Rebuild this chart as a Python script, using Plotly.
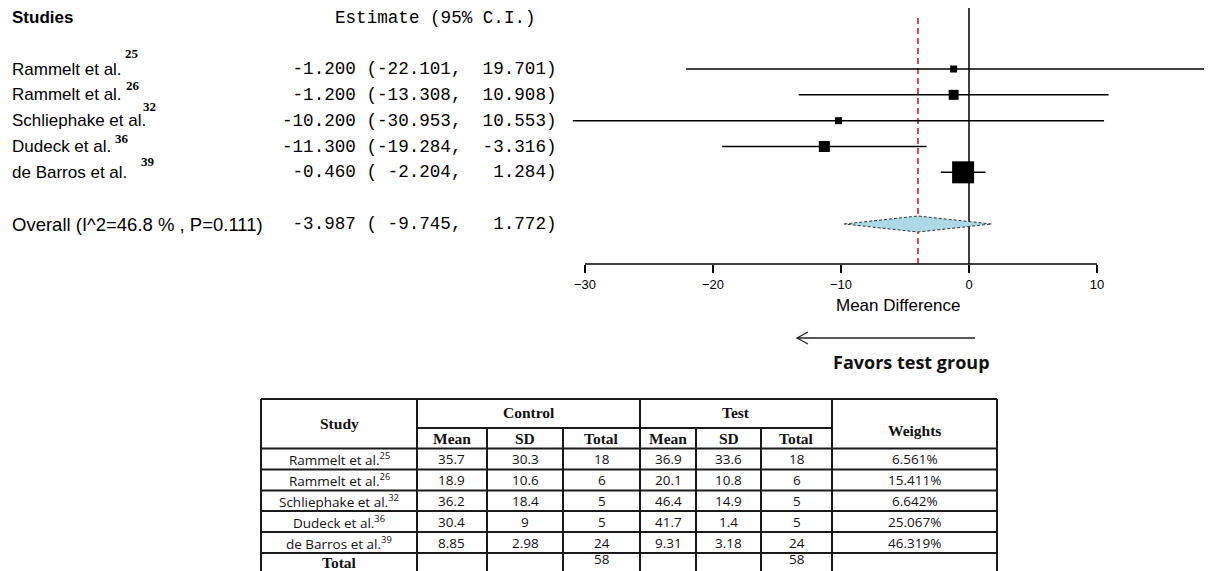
import plotly.graph_objects as go

# ---------------- data ----------------
studies = ["Rammelt et al.", "Rammelt et al.", "Schliephake et al.", "Dudeck et al.", "de Barros et al."]
refs = ["25", "26", "32", "36", "39"]
estimate = [-1.200, -1.200, -10.200, -11.300, -0.460]
ci_low = [-22.101, -13.308, -30.953, -19.284, -2.204]
ci_high = [19.701, 10.908, 10.553, -3.316, 1.284]
overall_label = "Overall (I^2=46.8 % , P=0.111)"
overall_est, overall_low, overall_high = -3.987, -9.745, 1.772
x_ticks = [-30, -20, -10, 0, 10]

tbl_study = ["Rammelt et al.", "Rammelt et al.", "Schliephake et al.", "Dudeck et al.", "de Barros et al."]
tbl_refs = ["25", "26", "32", "36", "39"]
ctrl_mean = ["35.7", "18.9", "36.2", "30.4", "8.85"]
ctrl_sd = ["30.3", "10.6", "18.4", "9", "2.98"]
ctrl_n = ["18", "6", "5", "5", "24"]
test_mean = ["36.9", "20.1", "46.4", "41.7", "9.31"]
test_sd = ["33.6", "10.8", "14.9", "1.4", "3.18"]
test_n = ["18", "6", "5", "5", "24"]
weights = ["6.561%", "15.411%", "6.642%", "25.067%", "46.319%"]
ctrl_total, test_total = "58", "58"

# ---------------- layout helpers (screen px; page body has an 8px margin) ----------------
OFF = 8
W, H = 1212 - OFF, 571 - OFF
def px(x):
    return (x - OFF) / W
def py(y):
    return 1 - (y - OFF) / H

# x axis: -30 -> 585 px, 10 -> 1097 px on screen
ppu = (1097 - 585) / 40.0
x_range = [-30 - (585 - OFF) / ppu, 10 + (1212 - 1097) / ppu]
axis_bottom_px = 264
rows = [1, 2, 3, 4, 5]
overall_row = 7
row_px = (224 - 69) / 6.0
y_range = [overall_row + (axis_bottom_px - 224) / row_px, 1 - (69 - OFF) / row_px]
box_px = [7, 10, 7, 11, 22]

fig = go.Figure()

# CI lines
for i in range(len(studies)):
    fig.add_trace(go.Scatter(x=[ci_low[i], ci_high[i]], y=[rows[i], rows[i]], mode="lines",
                             line=dict(color="black", width=1.5), hoverinfo="skip", showlegend=False))
# squares
fig.add_trace(go.Scatter(x=estimate, y=rows, mode="markers",
                         marker=dict(symbol="square", size=box_px, color="#000000", opacity=1,
                                     line=dict(width=0)),
                         showlegend=False))
# diamond
hh = 8 / row_px
fig.add_trace(go.Scatter(x=[overall_low, overall_est, overall_high, overall_est, overall_low],
                         y=[overall_row, overall_row - hh, overall_row, overall_row + hh, overall_row],
                         mode="lines", fill="toself", fillcolor="#add8e6",
                         line=dict(color="#333333", width=1, dash="3px,2px"), showlegend=False))

shapes = []
shapes.append(dict(type="line", xref="x", yref="y domain", x0=0, x1=0, y0=0, y1=1,
                   line=dict(color="black", width=1.5), layer="below"))
shapes.append(dict(type="line", xref="x", yref="y domain", x0=overall_est, x1=overall_est, y0=0, y1=0.97,
                   line=dict(color="#cc1111", width=1.5, dash="6px,4px"), layer="below"))
shapes.append(dict(type="line", xref="x", yref="y domain", x0=x_ticks[0], x1=x_ticks[-1], y0=0, y1=0,
                   line=dict(color="black", width=1.5)))

# arrow
ay_ = 338
shapes.append(dict(type="line", xref="paper", yref="paper", x0=px(975), x1=px(797), y0=py(ay_), y1=py(ay_),
                   line=dict(color="#222", width=1.3)))
shapes.append(dict(type="path", xref="paper", yref="paper",
                   path=f"M {px(808)} {py(ay_-6)} L {px(797)} {py(ay_)} L {px(808)} {py(ay_+6)}",
                   line=dict(color="#222", width=1.3)))

ann = []
LAB_FONT = dict(family="Liberation Sans, Arial", size=17, color="black")
OVR_FONT = dict(family="Liberation Sans, Arial", size=18.5, color="black")
MONO = dict(family="Liberation Mono, Courier New", size=17.6, color="black")
SUP_FONT = dict(family="Liberation Serif, Times New Roman", size=13, color="black")

ann.append(dict(text="<b>Studies</b>", xref="paper", yref="paper", x=px(10), y=py(18),
                xanchor="left", yanchor="middle", showarrow=False, font=LAB_FONT))
est_right = 559
cw = 0.6 * MONO["size"]
ann.append(dict(text="Estimate (95% C.I.)", xref="paper", yref="paper", x=px(est_right - 2 * cw), y=py(18),
                xanchor="right", yanchor="middle", showarrow=False, font=MONO))

def fmt(v, w):
    s = f"{v:.3f}"
    return "\u00a0" * max(0, w - len(s)) + s

def est_text(e, lo, hi):
    return f"{fmt(e,7)} ({fmt(lo,7)},\u00a0{fmt(hi,7)})"

for i in range(len(studies)):
    ann.append(dict(text=studies[i], xref="paper", yref="y", x=px(10), y=rows[i],
                    xanchor="left", yanchor="middle", showarrow=False, font=LAB_FONT))
    ann.append(dict(text=est_text(estimate[i], ci_low[i], ci_high[i]), xref="paper", yref="y",
                    x=px(est_right), y=rows[i], xanchor="right", yanchor="middle", showarrow=False, font=MONO))
ann.append(dict(text=overall_label, xref="paper", yref="y", x=px(10), y=overall_row,
                xanchor="left", yanchor="middle", showarrow=False, font=OVR_FONT))
ann.append(dict(text=est_text(overall_est, overall_low, overall_high), xref="paper", yref="y",
                x=px(est_right), y=overall_row, xanchor="right", yanchor="middle", showarrow=False, font=MONO))

# superscript reference numbers next to study labels
sup_x_px = [123, 124, 141, 113, 139]
sup_dy = [16, 9, 14, 8, 11]
for i in range(len(refs)):
    ann.append(dict(text=f"<b>{refs[i]}</b>", xref="paper", yref="y", x=px(sup_x_px[i]), y=rows[i],
                    yshift=sup_dy[i], xanchor="left", yanchor="middle", showarrow=False, font=SUP_FONT))

ann.append(dict(text="Mean Difference", xref="paper", yref="paper", x=px(898), y=py(305),
                xanchor="center", yanchor="middle", showarrow=False,
                font=dict(family="Liberation Sans, Arial", size=17, color="black")))
ann.append(dict(text="<b>Favors test group</b>", xref="paper", yref="paper", x=px(911), y=py(362),
                xanchor="center", yanchor="middle", showarrow=False,
                font=dict(family="Open Sans, Lato", size=18, color="#111")))

# ---------------- table ----------------
cx = [261, 417, 487, 563, 640, 696, 761, 832, 997]
t_top, t_mid, t_hdr = 399, 428, 448.5
rb = [448.5, 469.5, 490.5, 511, 532, 553, 576]
LW = dict(color="#1a1a1a", width=2)

def hline(y, x0, x1):
    shapes.append(dict(type="line", xref="paper", yref="paper", x0=px(x0), x1=px(x1), y0=py(y), y1=py(y), line=LW))
def vline(x, y0, y1):
    shapes.append(dict(type="line", xref="paper", yref="paper", x0=px(x), x1=px(x), y0=py(y0), y1=py(y1), line=LW))

hline(t_top, cx[0], cx[-1])
hline(t_mid, cx[1], cx[7])
for y in rb[:-1]:
    hline(y, cx[0], cx[-1])
for j, x in enumerate(cx):
    if j in (0, 1, 4, 7, 8):
        vline(x, t_top, rb[-1])
    else:
        vline(x, t_mid, rb[-1])

HDR = dict(family="Liberation Serif, Times New Roman", size=15.5, color="#111")
CELL = dict(family="Open Sans, DejaVu Sans", size=13.5, color="#111")

def cell(text, c0, c1, yc, font):
    ann.append(dict(text=text, xref="paper", yref="paper", x=px((c0 + c1) / 2), y=py(yc),
                    xanchor="center", yanchor="middle", showarrow=False, font=font))

cell("<b>Study</b>", cx[0], cx[1], 423, HDR)
cell("<b>Control</b>", cx[1], cx[4], 413, HDR)
cell("<b>Test</b>", cx[4], cx[7], 413, HDR)
cell("<b>Weights</b>", cx[7], cx[8], 430, HDR)
for k, lab in enumerate(["Mean", "SD", "Total", "Mean", "SD", "Total"]):
    cell(f"<b>{lab}</b>", cx[1 + k], cx[2 + k], 438.5, HDR)

cols_data = [ctrl_mean, ctrl_sd, ctrl_n, test_mean, test_sd, test_n]
for r in range(len(tbl_study)):
    yc = (rb[r] + rb[r + 1]) / 2
    cell(f"{tbl_study[r]}<sup>{tbl_refs[r]}</sup>", cx[0], cx[1], yc, CELL)
    for k, col in enumerate(cols_data):
        cell(col[r], cx[1 + k], cx[2 + k], yc, CELL)
    cell(weights[r], cx[7], cx[8], yc, CELL)
yc = 562
cell("<b>Total</b>", cx[0], cx[1], yc, HDR)
cell(ctrl_total, cx[3], cx[4], yc - 3, CELL)
cell(test_total, cx[6], cx[7], yc - 3, CELL)

fig.update_layout(
    width=W, height=H, margin=dict(l=0, r=0, t=0, b=0),
    paper_bgcolor="white", plot_bgcolor="white", showlegend=False,
    xaxis=dict(range=x_range, domain=[0, 1], showgrid=False, zeroline=False, showline=False,
               tickmode="array", tickvals=x_ticks, ticks="outside", ticklen=8, tickwidth=1.5,
               tickcolor="black", tickfont=dict(family="Liberation Sans, Arial", size=13, color="black"),
               fixedrange=True),
    yaxis=dict(range=y_range, domain=[py(axis_bottom_px), 1], showgrid=False, zeroline=False,
               showline=False, showticklabels=False, ticks="", fixedrange=True),
    shapes=shapes, annotations=ann,
)

fig.write_html("out.html")
